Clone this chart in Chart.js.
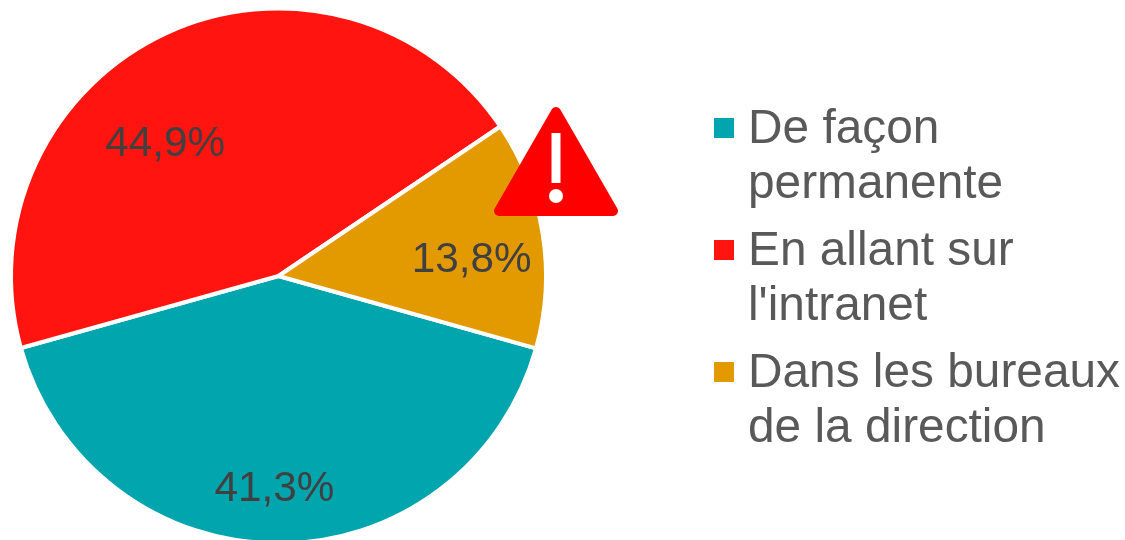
<!DOCTYPE html>
<html>
<head>
<meta charset="utf-8">
<script src="https://cdn.jsdelivr.net/npm/chart.js@4"></script>
<style>
html, body { margin: 0; padding: 0; background: #fff; overflow: hidden; }
#clip { width: 1125px; height: 540px; overflow: hidden; }
#box { position: relative; width: 1125px; height: 546px; }
</style>
</head>
<body>
<div id="clip"><div id="box"><canvas id="chart"></canvas></div></div>
<script>
const categories = ["De façon permanente", "En allant sur l'intranet", "Dans les bureaux de la direction"];
const values = [41.3, 44.9, 13.8];
const valueLabels = ["41,3%", "44,9%", "13,8%"];
const legendLines = [["De façon", "permanente"], ["En allant sur", "l'intranet"], ["Dans les bureaux", "de la direction"]];
const colors = ["#00A5AE", "#FF140F", "#E39A00"];

const FONT = '"Liberation Sans", Arial, sans-serif';

// percent labels, placed relative to each slice centre
const labelOffsets = [[-4, 2], [-37, 33], [3, 15]];
const labelRadius = [0.79, 0.68, 0.72];

const sliceLabels = {
    id: "sliceLabels",
    afterDatasetsDraw(chart) {
        const ctx = chart.ctx;
        const arcs = chart.getDatasetMeta(0).data;
        ctx.save();
        ctx.font = "42.3px " + FONT;
        ctx.fillStyle = "#404040";
        ctx.textAlign = "center";
        ctx.textBaseline = "middle";
        arcs.forEach((arc, i) => {
            const mid = (arc.startAngle + arc.endAngle) / 2;
            const x = arc.x + Math.cos(mid) * arc.outerRadius * labelRadius[i] + labelOffsets[i][0];
            const y = arc.y + Math.sin(mid) * arc.outerRadius * labelRadius[i] + labelOffsets[i][1];
            ctx.fillText(valueLabels[i], x, y);
        });
        ctx.restore();
    }
};

// legend with two-line entries
const sideLegend = {
    id: "sideLegend",
    afterDraw(chart) {
        const ctx = chart.ctx;
        const rowTops = [128, 250, 372];
        ctx.save();
        ctx.font = "47.8px " + FONT;
        ctx.textBaseline = "middle";
        legendLines.forEach((lines, i) => {
            ctx.fillStyle = colors[i];
            ctx.fillRect(714, rowTops[i] - 10, 20, 20);
            ctx.fillStyle = "#595959";
            lines.forEach((line, j) => {
                ctx.fillText(line, 748, rowTops[i] + 2 + j * 55);
            });
        });
        ctx.restore();
    }
};

// red warning sign on top of the gold slice
const warningSign = {
    id: "warningSign",
    afterDraw(chart) {
        const ctx = chart.ctx;
        ctx.save();
        ctx.fillStyle = "#FF0000";
        ctx.strokeStyle = "#FF0000";
        ctx.lineWidth = 10;
        ctx.lineJoin = "round";
        ctx.beginPath();
        ctx.moveTo(556, 112);
        ctx.lineTo(613, 211);
        ctx.lineTo(499, 211);
        ctx.closePath();
        ctx.fill();
        ctx.stroke();
        ctx.fillStyle = "#FFFFFF";
        ctx.fillRect(551.5, 133, 9, 50);
        ctx.beginPath();
        ctx.arc(556, 196, 7, 0, Math.PI * 2);
        ctx.fill();
        ctx.restore();
    }
};

new Chart(document.getElementById("chart"), {
    type: "pie",
    data: {
        labels: categories,
        datasets: [{
            data: values,
            backgroundColor: colors,
            borderColor: "#FFFFFF",
            borderWidth: 4
        }]
    },
    options: {
        responsive: true,
        maintainAspectRatio: false,
        animation: false,
        rotation: 105.7,
        layout: { padding: { left: 9, top: 6, right: 577, bottom: 0 } },
        plugins: {
            legend: { display: false },
            tooltip: { enabled: false }
        }
    },
    plugins: [sliceLabels, sideLegend, warningSign]
});
</script>
</body>
</html>
